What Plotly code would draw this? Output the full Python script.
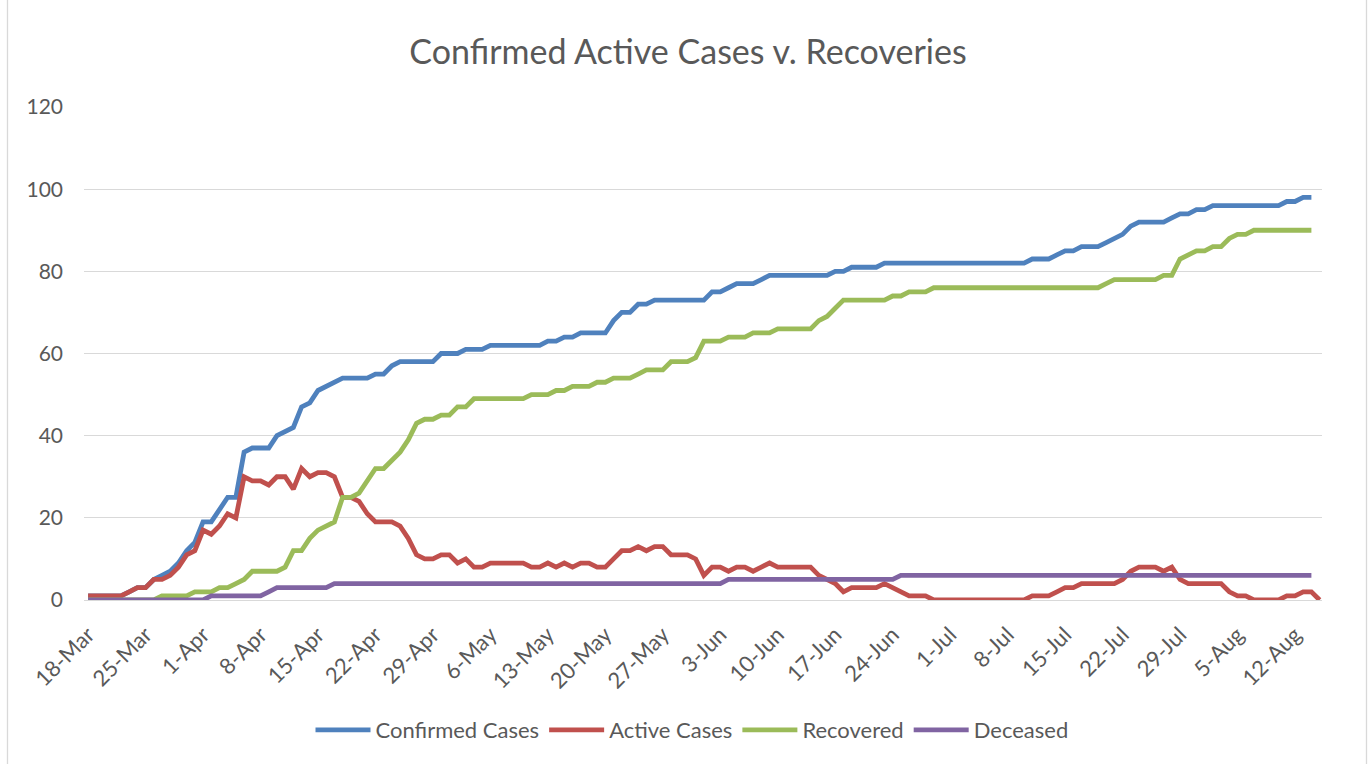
import pandas as pd
import plotly.graph_objects as go

start_date = "2020-03-18"

confirmed = [
    1, 1, 1, 1, 1, 2, 3, 3, 5, 6,
    7, 9, 12, 14, 19, 19, 22, 25, 25, 36,
    37, 37, 37, 40, 41, 42, 47, 48, 51, 52,
    53, 54, 54, 54, 54, 55, 55, 57, 58, 58,
    58, 58, 58, 60, 60, 60, 61, 61, 61, 62,
    62, 62, 62, 62, 62, 62, 63, 63, 64, 64,
    65, 65, 65, 65, 68, 70, 70, 72, 72, 73,
    73, 73, 73, 73, 73, 73, 75, 75, 76, 77,
    77, 77, 78, 79, 79, 79, 79, 79, 79, 79,
    79, 80, 80, 81, 81, 81, 81, 82, 82, 82,
    82, 82, 82, 82, 82, 82, 82, 82, 82, 82,
    82, 82, 82, 82, 82, 83, 83, 83, 84, 85,
    85, 86, 86, 86, 87, 88, 89, 91, 92, 92,
    92, 92, 93, 94, 94, 95, 95, 96, 96, 96,
    96, 96, 96, 96, 96, 96, 97, 97, 98, 98,
]

active = [
    1, 1, 1, 1, 1, 2, 3, 3, 5, 5,
    6, 8, 11, 12, 17, 16, 18, 21, 20, 30,
    29, 29, 28, 30, 30, 27, 32, 30, 31, 31,
    30, 25, 25, 24, 21, 19, 19, 19, 18, 15,
    11, 10, 10, 11, 11, 9, 10, 8, 8, 9,
    9, 9, 9, 9, 8, 8, 9, 8, 9, 8,
    9, 9, 8, 8, 10, 12, 12, 13, 12, 13,
    13, 11, 11, 11, 10, 6, 8, 8, 7, 8,
    8, 7, 8, 9, 8, 8, 8, 8, 8, 6,
    5, 4, 2, 3, 3, 3, 3, 4, 3, 2,
    1, 1, 1, 0, 0, 0, 0, 0, 0, 0,
    0, 0, 0, 0, 0, 1, 1, 1, 2, 3,
    3, 4, 4, 4, 4, 4, 5, 7, 8, 8,
    8, 7, 8, 5, 4, 4, 4, 4, 4, 2,
    1, 1, 0, 0, 0, 0, 1, 1, 2, 2,
    0,
]

recovered = [
    0, 0, 0, 0, 0, 0, 0, 0, 0, 1,
    1, 1, 1, 2, 2, 2, 3, 3, 4, 5,
    7, 7, 7, 7, 8, 12, 12, 15, 17, 18,
    19, 25, 25, 26, 29, 32, 32, 34, 36, 39,
    43, 44, 44, 45, 45, 47, 47, 49, 49, 49,
    49, 49, 49, 49, 50, 50, 50, 51, 51, 52,
    52, 52, 53, 53, 54, 54, 54, 55, 56, 56,
    56, 58, 58, 58, 59, 63, 63, 63, 64, 64,
    64, 65, 65, 65, 66, 66, 66, 66, 66, 68,
    69, 71, 73, 73, 73, 73, 73, 73, 74, 74,
    75, 75, 75, 76, 76, 76, 76, 76, 76, 76,
    76, 76, 76, 76, 76, 76, 76, 76, 76, 76,
    76, 76, 76, 76, 77, 78, 78, 78, 78, 78,
    78, 79, 79, 83, 84, 85, 85, 86, 86, 88,
    89, 89, 90, 90, 90, 90, 90, 90, 90, 90,
]

deceased = (
    [0] * 15 + [1] * 7 + [2] + [3] * 7 + [4] * 48 + [5] * 21 + [6] * 51
)

dates = pd.date_range(start_date, periods=len(active), freq="D")

series = [
    ("Confirmed Cases", confirmed, "#4F81BD"),
    ("Active Cases", active, "#C0504D"),
    ("Recovered", recovered, "#9BBB59"),
    ("Deceased", deceased, "#8064A2"),
]

FONT = "Lato"
TXT = "#595959"

fig = go.Figure()
for name, vals, color in series:
    fig.add_trace(go.Scatter(
        x=dates[:len(vals)], y=vals, mode="lines", name=name,
        line=dict(color=color, width=4.8),
    ))

# pixel geometry
L, R, T, B = 84, 1322, 107, 600
W, H = 1369, 764


def px(x):
    return (x - L) / (R - L)


def py(y):
    return (B - y) / (B - T)


border = dict(color="#D9D9D9", width=1.3)

fig.update_layout(
    width=W, height=H, autosize=False,
    margin=dict(l=L, r=W - R, t=T, b=H - B),
    paper_bgcolor="white", plot_bgcolor="white",
    font=dict(family=FONT, color=TXT, size=20),
    title=dict(
        text="Confirmed Active Cases v. Recoveries",
        font=dict(family=FONT, size=34, color=TXT),
        x=px(688), xref="paper", xanchor="center",
        y=1 - 52 / H, yref="container", yanchor="middle",
    ),
    showlegend=True,
    legend=dict(
        orientation="h", x=px(692), xanchor="center",
        y=py(730), yanchor="middle",
        font=dict(family=FONT, size=22, color=TXT),
        bgcolor="rgba(0,0,0,0)",
        traceorder="normal",
        itemwidth=55,
        tracegroupgap=0,
    ),
    xaxis=dict(
        type="date",
        range=["2020-03-17 12:00", "2020-08-15 07:00"],
        tick0=start_date, dtick=7 * 86400000,
        tickformat="%-d-%b", tickangle=-45,
        showgrid=False, zeroline=False,
        showline=True, linecolor="#D9D9D9", linewidth=1.3,
        ticks="", tickfont=dict(family=FONT, size=22, color=TXT),
        ticklabelstandoff=12,
    ),
    yaxis=dict(
        range=[0, 120], dtick=20, tick0=0,
        showgrid=True, gridcolor="#D9D9D9", gridwidth=1.3,
        zeroline=False, showline=False, ticks="",
        tickfont=dict(family=FONT, size=21, color=TXT),
        ticklabelstandoff=20,
    ),
    shapes=[
        dict(type="line", xref="paper", yref="paper",
             x0=px(7.5), x1=px(7.5), y0=py(766), y1=py(-2),
             line=border, layer="below"),
        dict(type="line", xref="paper", yref="paper",
             x0=px(1366.5), x1=px(1366.5), y0=py(766), y1=py(-2),
             line=border, layer="below"),
    ],
)

fig.write_html(
    "out.html",
    config={"displayModeBar": False},
    post_script="document.body.style.margin='0';",
)
